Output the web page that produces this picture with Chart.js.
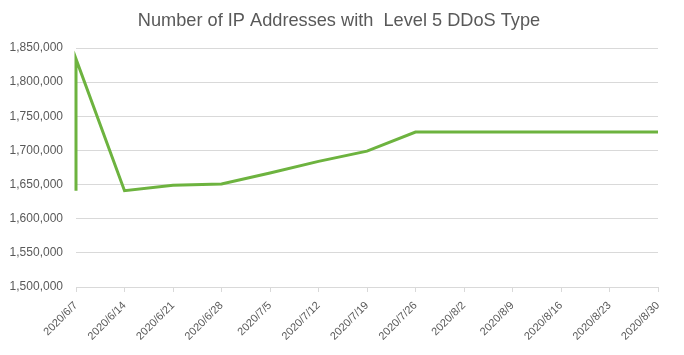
<!DOCTYPE html>
<html>
<head>
<meta charset="utf-8">
<script src="https://cdn.jsdelivr.net/npm/chart.js@4/dist/chart.umd.min.js"></script>
<style>
html,body{margin:0;padding:0;background:#fff;}
#wrap{width:684px;height:355px;position:relative;}
</style>
</head>
<body>
<div id="wrap"><canvas id="c" width="684" height="355"></canvas></div>
<script>
const titleText = "Number of IP Addresses with  Level 5 DDoS Type";
// days since 2020/6/7
const dayOffsets = [0, 0, 7, 14, 21, 28, 35, 42, 49, 56, 63, 70, 77, 84];
const ipCounts = [1641000, 1834000, 1641000, 1649000, 1651000, 1667000, 1684000, 1699000, 1727000, 1727000, 1727000, 1727000, 1727000, 1727000];
const tickLabels = ["2020/6/7","2020/6/14","2020/6/21","2020/6/28","2020/7/5","2020/7/12","2020/7/19","2020/7/26","2020/8/2","2020/8/9","2020/8/16","2020/8/23","2020/8/30"];

const points = dayOffsets.map((d, i) => ({x: d, y: ipCounts[i]}));
const FONT = "'Liberation Sans', Arial, sans-serif";
const GREY = "#595959";

const titlePlugin = {
  id: 'customTitle',
  afterDraw(chart) {
    const ctx = chart.ctx;
    ctx.save();
    ctx.font = "18.2px " + FONT;
    ctx.fillStyle = GREY;
    ctx.textAlign = 'center';
    ctx.textBaseline = 'middle';
    ctx.fillText(titleText, 339, 21);
    ctx.restore();
  }
};

new Chart(document.getElementById('c'), {
  type: 'line',
  data: {
    datasets: [{
      data: points,
      borderColor: '#6db33f',
      borderWidth: 3,
      pointRadius: 0,
      fill: false,
      tension: 0,
      clip: 6
    }]
  },
  options: {
    responsive: false,
    animation: false,
    layout: {padding: {left: 8, right: 26, top: 48, bottom: 0}},
    plugins: {
      legend: {display: false},
      tooltip: {enabled: false},
      title: {display: false}
    },
    scales: {
      x: {
        type: 'linear',
        min: 0,
        max: 84,
        ticks: {
          stepSize: 7,
          autoSkip: false,
          maxRotation: 45,
          minRotation: 45,
          color: GREY,
          font: {family: FONT, size: 11},
          padding: 7,
          callback: (v) => tickLabels[Math.round(v / 7)]
        },
        grid: {drawOnChartArea: false, drawTicks: true, tickLength: 5, color: '#d9d9d9'},
        border: {display: true, color: '#d9d9d9'},
        afterFit: (s) => { s.height = 68; }
      },
      y: {
        min: 1500000,
        max: 1850000,
        ticks: {
          stepSize: 50000,
          color: GREY,
          font: {family: FONT, size: 12},
          padding: 13,
          callback: (v) => v.toLocaleString('en-US')
        },
        grid: {color: '#d9d9d9', drawTicks: false},
        border: {display: false},
        afterFit: (s) => { s.width = 68; }
      }
    }
  },
  plugins: [titlePlugin]
});
</script>
</body>
</html>
